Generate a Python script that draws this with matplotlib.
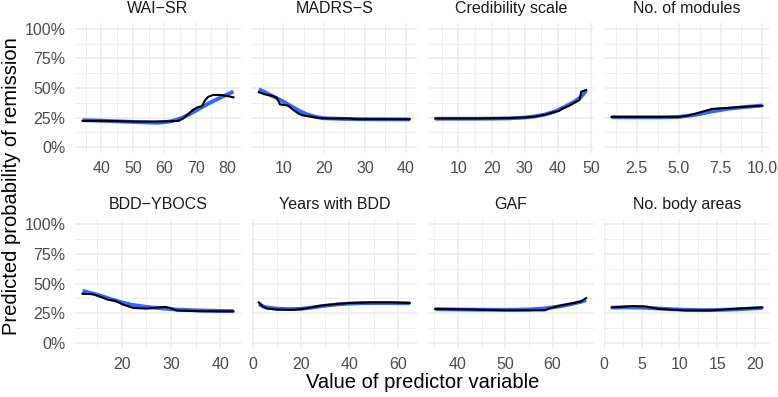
import matplotlib
matplotlib.use("Agg")
import matplotlib.pyplot as plt
from matplotlib.ticker import FixedLocator, FuncFormatter

plt.rcParams['font.family'] = ['Liberation Sans', 'DejaVu Sans']

# ---------------- data ----------------
titles = ["WAI\u2212SR", "MADRS\u2212S", "Credibility scale", "No. of modules",
          "BDD\u2212YBOCS", "Years with BDD", "GAF", "No. body areas"]

wai_x = [34, 40, 46, 51, 56, 62, 64.5, 66, 67.5, 69, 70.5, 72, 73, 74, 75.5, 78, 80, 82]
wai_y = [22.2, 22.2, 21.9, 21.6, 21.6, 21.9, 22.2, 24.2, 27.6, 31.3, 33.6, 34.7, 39.8, 42.6, 44.1, 44.1, 43.2, 42.1]
wai_sx = [34, 40, 45, 50, 55, 58, 60, 62, 64, 66, 68, 70, 72, 74, 76, 78, 80, 82]
wai_sy = [22.8, 22.3, 21.8, 21.3, 20.8, 20.6, 21.0, 21.8, 23.2, 25.2, 27.8, 30.8, 33.8, 36.8, 39.5, 42.0, 44.5, 47.0]

madrs_x = [4, 5.5, 7.5, 8.4, 9.2, 10.4, 11.2, 12.5, 13.7, 14.9, 17, 19, 22, 26, 28.4, 34, 41]
madrs_y = [46.4, 44.6, 43.2, 41.8, 36.1, 35.5, 35.0, 31.3, 28.4, 26.7, 25.6, 24.5, 24.2, 24.2, 23.6, 23.6, 23.6]
madrs_sx = [4, 6, 8, 10, 12, 14, 16, 18, 20, 25, 30, 35, 41]
madrs_sy = [49.0, 45.5, 42.0, 38.5, 34.5, 30.5, 27.5, 25.5, 24.4, 23.8, 23.6, 23.5, 23.4]

cred_x = [3, 15, 25, 30.3, 33.3, 36.4, 38.4, 40.4, 41.4, 43.4, 45.5, 46.5, 47, 48.5]
cred_y = [24.2, 24.2, 24.5, 25.1, 25.9, 27.6, 29.3, 30.7, 32.7, 35.0, 38.4, 39.8, 46.9, 48.3]
cred_sx = [3, 10, 15, 20, 25, 30, 33, 36, 39, 42, 45, 47, 48.5]
cred_sy = [24.0, 24.0, 24.0, 24.1, 24.3, 25.0, 26.0, 27.5, 30.0, 34.0, 38.5, 42.5, 48.0]

mod_x = [1, 2, 3, 4, 5, 5.5, 6, 6.5, 7, 7.5, 8, 9, 10]
mod_y = [25.5, 25.5, 25.5, 25.5, 25.6, 26.5, 28.3, 30.3, 32.3, 32.8, 33.2, 34.2, 35.0]
mod_sx = [1, 2, 3, 4, 5, 6, 7, 8, 9, 10]
mod_sy = [25.3, 25.2, 25.2, 25.2, 25.5, 27.3, 30.2, 32.5, 34.0, 35.2]

ybocs_x = [12, 14.1, 15.5, 17.2, 18.6, 20.3, 22.3, 25, 27.1, 28.8, 29.8, 31.2, 36.6, 42.7]
ybocs_y = [41.25, 41.0, 39.0, 36.25, 35.4, 32.1, 29.3, 28.75, 29.6, 30.2, 29.3, 27.1, 26.5, 26.5]
ybocs_sx = [12, 15, 18, 20, 22, 25, 28, 31, 35, 40, 42.7]
ybocs_sy = [43.8, 40.5, 36.5, 34.0, 32.0, 30.2, 29.0, 28.0, 27.3, 26.8, 26.7]

years_x = [2.5, 4, 6, 10, 17, 22.5, 28, 35, 40, 48.5, 57, 65]
years_y = [34.0, 30.7, 28.75, 27.9, 27.7, 29.0, 31.25, 32.7, 33.5, 34.0, 34.0, 33.5]
years_sx = [2.5, 5, 10, 15, 20, 25, 30, 35, 40, 45, 50, 55, 60, 65]
years_sy = [32.5, 30.0, 28.7, 28.3, 28.6, 29.8, 31.2, 32.3, 33.0, 33.4, 33.5, 33.5, 33.4, 33.3]

gaf_x = [35.2, 43.6, 50.6, 58.3, 59.7, 61.8, 64.6, 66, 67.1]
gaf_y = [28.5, 27.9, 27.3, 27.3, 29.3, 31.5, 33.5, 34.8, 37.7]
gaf_sx = [35.2, 40, 45, 50, 55, 58, 60, 62, 64, 66, 67.1]
gaf_sy = [28.3, 28.0, 27.8, 27.7, 28.0, 28.8, 29.8, 31.0, 32.6, 34.5, 36.0]

body_x = [1, 3.8, 5.5, 7.3, 10.8, 14.2, 17.8, 21]
body_y = [29.75, 30.9, 30.6, 28.5, 27.25, 27.25, 28.75, 29.75]
body_sx = [1, 3, 5, 7, 9, 11, 13, 15, 17, 19, 21]
body_sy = [29.6, 29.8, 29.6, 28.9, 28.2, 27.7, 27.5, 27.6, 28.0, 28.6, 29.3]

x_majors = [[40, 50, 60, 70, 80], [10, 20, 30, 40], [10, 20, 30, 40, 50], [2.5, 5.0, 7.5, 10.0],
            [20, 30, 40], [0, 20, 40, 60], [40, 50, 60], [0, 5, 10, 15, 20]]
x_labels = [["40", "50", "60", "70", "80"], ["10", "20", "30", "40"], ["10", "20", "30", "40", "50"],
            ["2.5", "5.0", "7.5", "10.0"], ["20", "30", "40"], ["0", "20", "40", "60"],
            ["40", "50", "60"], ["0", "5", "10", "15", "20"]]
y_ticks = [0, 25, 50, 75, 100]
y_labels = ["0%", "25%", "50%", "75%", "100%"]

raw = [(wai_x, wai_y), (madrs_x, madrs_y), (cred_x, cred_y), (mod_x, mod_y),
       (ybocs_x, ybocs_y), (years_x, years_y), (gaf_x, gaf_y), (body_x, body_y)]
smooth = [(wai_sx, wai_sy), (madrs_sx, madrs_sy), (cred_sx, cred_sy), (mod_sx, mod_sy),
          (ybocs_sx, ybocs_sy), (years_sx, years_sy), (gaf_sx, gaf_sy), (body_sx, body_sy)]

# ---------------- figure ----------------
W, H = 778, 397
fig = plt.figure(figsize=(W / 100, H / 100), dpi=100)

pw, ph = 166, 130
lefts = [75, 251.3, 427.7, 604]
tops = [23, 218.5]
grid_col = '#EBEBEB'

for i in range(8):
    r, c = divmod(i, 4)
    ax = fig.add_axes([lefts[c] / W, 1 - (tops[r] + ph) / H, pw / W, ph / H])
    sx, sy = smooth[i]
    bx, by = raw[i]
    ax.plot(sx, sy, color='#3366FF', lw=2.8, solid_capstyle='butt', zorder=3)
    ax.plot(bx, by, color='black', lw=1.5, zorder=4)
    ax.margins(x=0.05)
    ax.set_ylim(-5, 105)
    xmin, xmax = ax.get_xlim()
    maj = x_majors[i]
    step = maj[1] - maj[0]
    minors = [m - step / 2 for m in maj] + [maj[-1] + step / 2]
    minors = [m for m in minors if xmin <= m <= xmax]
    ax.xaxis.set_major_locator(FixedLocator(maj))
    ax.set_xticklabels(x_labels[i])
    ax.xaxis.set_minor_locator(FixedLocator(minors))
    ax.yaxis.set_major_locator(FixedLocator(y_ticks))
    ax.yaxis.set_minor_locator(FixedLocator([12.5, 37.5, 62.5, 87.5]))
    if c == 0:
        ax.set_yticklabels(y_labels)
    else:
        ax.set_yticklabels([])
    ax.grid(which='major', color=grid_col, lw=1.1, zorder=0)
    ax.grid(which='minor', color=grid_col, lw=0.6, zorder=0)
    ax.set_axisbelow(True)
    for s in ax.spines.values():
        s.set_visible(False)
    ax.tick_params(which='both', length=0)
    ax.tick_params(axis='x', pad=6, labelsize=11.5, labelcolor='#4D4D4D')
    ax.tick_params(axis='y', pad=7, labelsize=11.5, labelcolor='#4D4D4D')
    ax.set_title(titles[i], fontsize=11.5, color='#1A1A1A', pad=7)

fig.text(12 / W, 1 - 186 / H, "Predicted probability of remission", rotation=90,
         ha='center', va='center', fontsize=14.5, color='black')
fig.text(422.5 / W, 1 - 383 / H, "Value of predictor variable",
         ha='center', va='center', fontsize=14.5, color='black')

fig.savefig("out.png", dpi=100)
